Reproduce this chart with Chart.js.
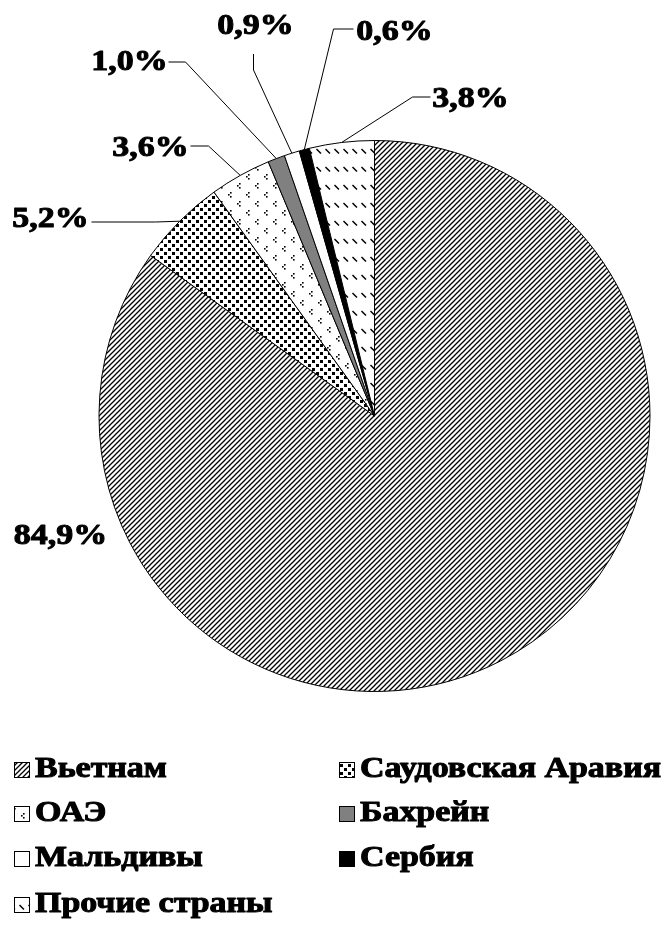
<!DOCTYPE html>
<html><head><meta charset="utf-8">
<script src="https://cdn.jsdelivr.net/npm/chart.js@4/dist/chart.umd.min.js"></script>
<style>html,body{margin:0;padding:0;background:#fff;} .probe{font:bold 29px "Liberation Serif";position:absolute;left:-9999px;}</style>
</head><body>
<span class="probe">Вьетнам 84,9%</span>
<canvas id="c" width="662" height="930"></canvas>
<script>
// ---- data ----
const categories = ['Вьетнам', 'Саудовская Аравия', 'ОАЭ', 'Бахрейн', 'Мальдивы', 'Сербия', 'Прочие страны'];
const shares = [84.9, 5.2, 3.6, 1.0, 0.9, 0.6, 3.8];
const valueLabels = ['84,9%', '5,2%', '3,6%', '1,0%', '0,9%', '0,6%', '3,8%'];

// ---- layout (relative to pie centre) ----
// t: text centre, l: leader start, e: leader elbow (null = no leader)
const labelLayout = [
  {t: [-314, 121], l: null, e: null},
  {t: [-324, -196], l: [-283, -194], e: [-219, -194]},
  {t: [-224, -267], l: [-184, -270], e: [-166, -270]},
  {t: [-245, -353], l: [-206, -354], e: [-189, -354]},
  {t: [-119, -389], l: [-121, -362], e: [-121, -346]},
  {t: [20, -383], l: [-21, -387], e: [-41, -387]},
  {t: [96, -316], l: [56, -319], e: [38, -319]}
];
const legendCols = [14, 339];
const legendRows = [770, 814, 859, 905];

const FONT = 'bold 29px "Liberation Serif"';
const STRETCH = 1.17;

function makePattern(w, h, draw) {
  const c = document.createElement('canvas');
  c.width = w; c.height = h;
  const g = c.getContext('2d');
  g.fillStyle = '#fff'; g.fillRect(0, 0, w, h);
  g.fillStyle = '#000'; g.strokeStyle = '#000';
  draw(g);
  return g.createPattern(c, 'repeat');
}
const ctx = document.getElementById('c').getContext('2d');
const patterns = [
  makePattern(5, 5, g => { g.lineWidth = 1.3; g.beginPath();
    g.moveTo(-1, 6); g.lineTo(6, -1); g.moveTo(-1, 1); g.lineTo(1, -1); g.moveTo(4, 6); g.lineTo(6, 4); g.stroke(); }),
  makePattern(8, 8, g => { g.fillRect(0, 0, 3, 3); g.fillRect(4, 4, 3, 3); }),
  makePattern(18, 18, g => { [[3, 3], [12, 12]].forEach(([x, y]) => {
    g.fillRect(x + 2, y, 1.6, 1.6); g.fillRect(x, y + 2, 1.6, 1.6); g.fillRect(x + 2, y + 4, 1.6, 1.6); }); }),
  '#808080',
  '#ffffff',
  '#000000',
  makePattern(9, 18, g => { g.lineWidth = 1.5; g.beginPath(); g.moveTo(1.5, 5); g.lineTo(6, 9.5); g.stroke(); })
];

function stretchedText(c, text, x, y, align) {
  c.save();
  c.translate(x, y);
  c.scale(STRETCH, 1);
  c.font = FONT;
  c.textAlign = align;
  c.textBaseline = 'middle';
  c.fillStyle = '#000';
  c.strokeStyle = '#000';
  c.lineWidth = 1;
  c.lineJoin = 'round';
  c.fillText(text, 0, 0);
  c.strokeText(text, 0, 0);
  c.restore();
}

const labelsPlugin = {
  id: 'pieLabels',
  afterDatasetsDraw(chart) {
    const c = chart.ctx;
    const meta = chart.getDatasetMeta(0);
    meta.data.forEach((arc, i) => {
      const p = arc.getProps(['x', 'y', 'startAngle', 'endAngle', 'outerRadius'], true);
      const lay = labelLayout[i];
      const mid = (p.startAngle + p.endAngle) / 2;
      const ax = p.x + Math.cos(mid) * p.outerRadius;
      const ay = p.y + Math.sin(mid) * p.outerRadius;
      if (lay.l) {
        c.save();
        c.strokeStyle = '#000';
        c.lineWidth = 1;
        c.beginPath();
        c.moveTo(p.x + lay.l[0], p.y + lay.l[1]);
        c.lineTo(p.x + lay.e[0], p.y + lay.e[1]);
        c.lineTo(ax, ay);
        c.stroke();
        c.restore();
      }
      stretchedText(c, valueLabels[i], p.x + lay.t[0], p.y + lay.t[1], 'center');
    });
  }
};

const legendPlugin = {
  id: 'gridLegend',
  afterDraw(chart) {
    const c = chart.ctx;
    const bg = chart.data.datasets[0].backgroundColor;
    chart.data.labels.forEach((lab, i) => {
      const x = legendCols[i % 2];
      const y = legendRows[Math.floor(i / 2)];
      c.save();
      c.fillStyle = bg[i];
      c.fillRect(x, y - 8, 16, 16);
      c.strokeStyle = '#000';
      c.lineWidth = 1;
      c.strokeRect(x + 0.5, y - 7.5, 15, 15);
      c.restore();
      stretchedText(c, lab, x + 21, y, 'left');
    });
  }
};

function build() {
  new Chart(ctx, {
    type: 'pie',
    data: {
      labels: categories,
      datasets: [{
        data: shares,
        backgroundColor: patterns,
        borderColor: '#000',
        borderWidth: 1
      }]
    },
    options: {
      responsive: false,
      animation: false,
      layout: {padding: {left: 98, right: 11, top: 140, bottom: 238}},
      plugins: {legend: {display: false}, tooltip: {enabled: false}}
    },
    plugins: [labelsPlugin, legendPlugin]
  });
}
if (document.fonts && document.fonts.load) {
  document.fonts.load(FONT, 'Вьетнам84,9%').then(build, build);
} else {
  build();
}
</script>
</body></html>
